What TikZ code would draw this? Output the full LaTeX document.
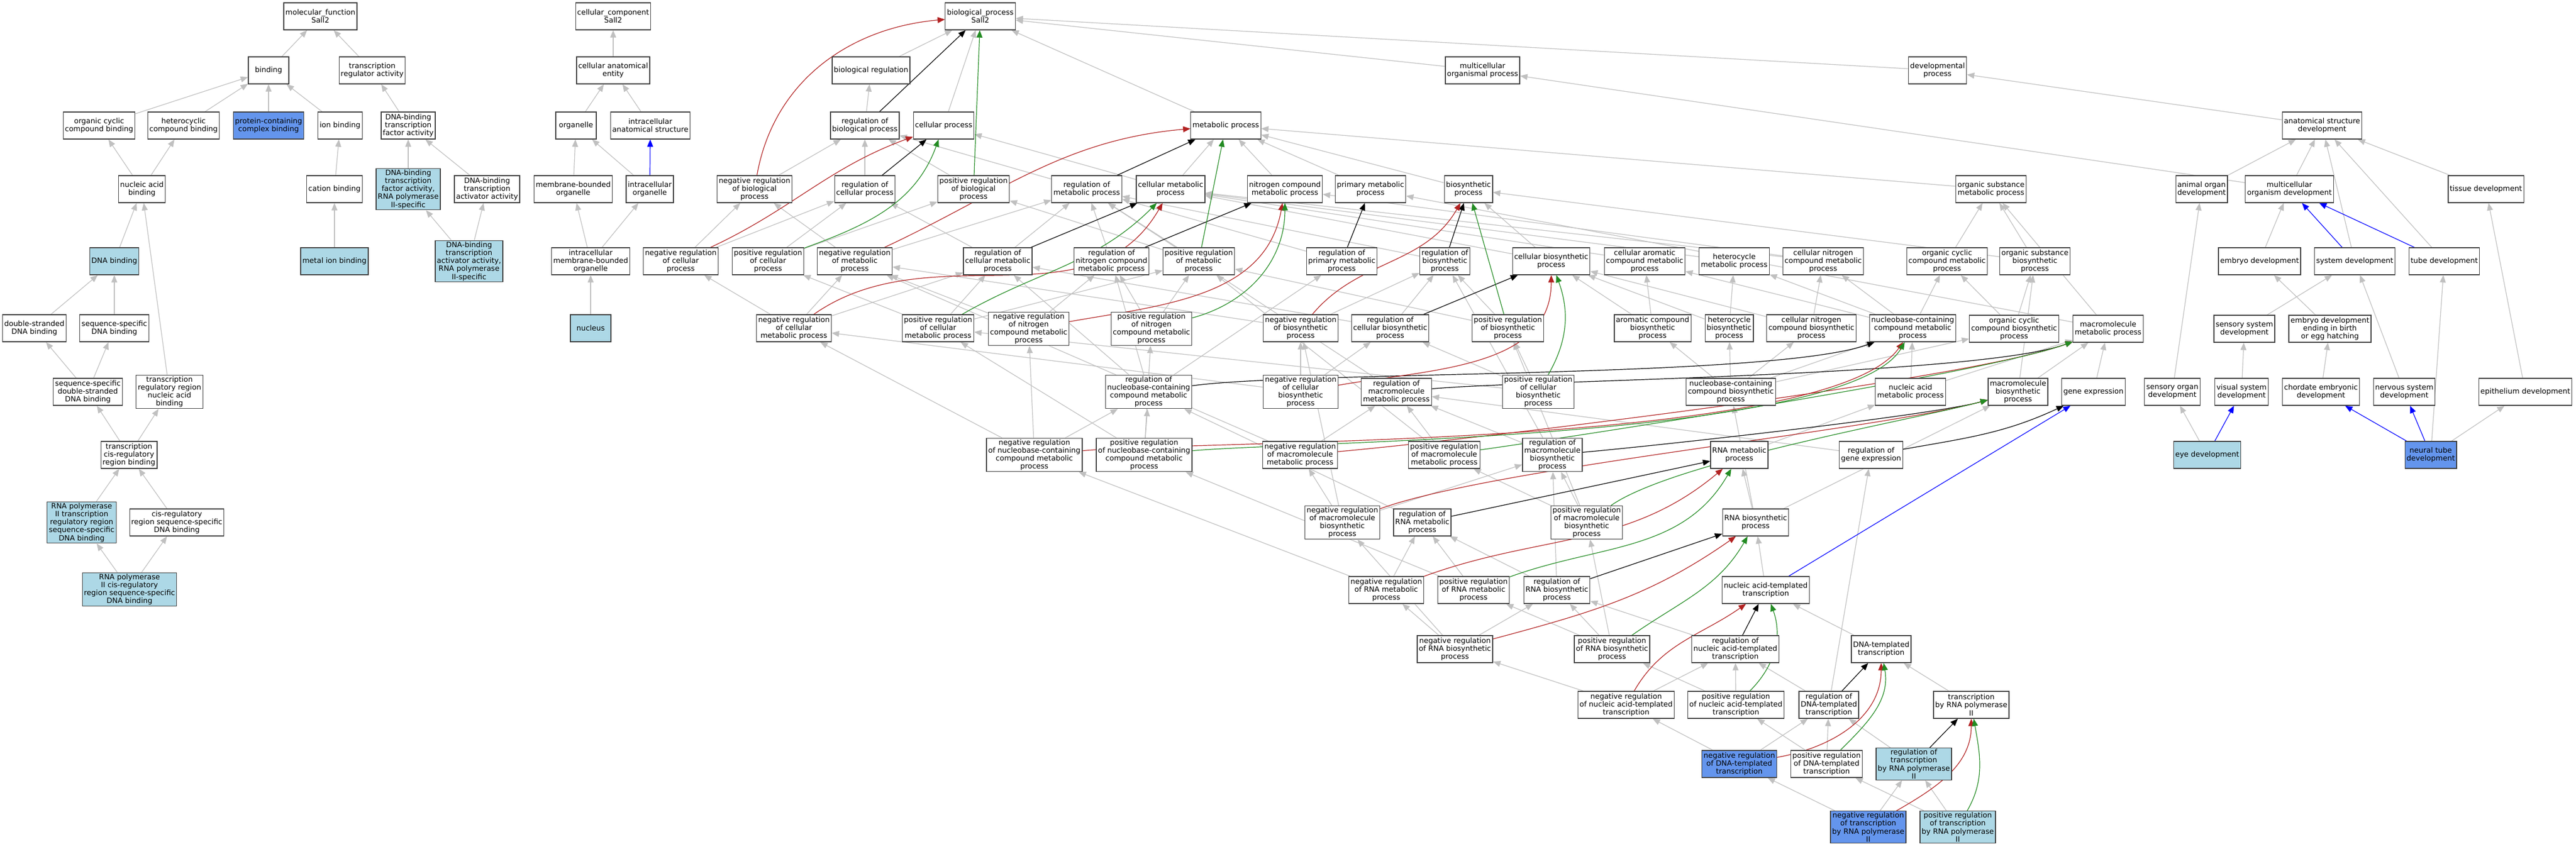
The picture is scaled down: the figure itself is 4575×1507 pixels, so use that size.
\documentclass[tikz,border=0pt]{standalone}
\usepackage{fontspec}
\setmainfont{DejaVu Sans}
\usetikzlibrary{arrows.meta}
\usetikzlibrary{backgrounds}
\definecolor{lb}{HTML}{ADD8E6}
\definecolor{cb}{HTML}{6495ED}
\definecolor{eg}{HTML}{C0C0C0}
\definecolor{fr}{HTML}{B22222}
\definecolor{fg}{HTML}{228B22}
\begin{document}
\begin{tikzpicture}[>={Triangle[length=1.3pt,width=1.05pt]},x=0.1pt,y=0.1pt,
    term/.style={draw=black!75,line width=0.13pt,fill=white,align=center,minimum height=4.8pt,minimum width=7.2pt,inner xsep=0.3pt,inner ysep=0.2pt,font=\fontsize{1.3}{1.42}\selectfont},
    lbox/.style={term,fill=lb},
    cbox/.style={term,fill=cb},
    ge/.style={->,color=eg,line width=0.12pt},
    bk/.style={->,color=black,line width=0.12pt},
    rd/.style={->,color=fr,line width=0.12pt},
    gn/.style={->,color=fg,line width=0.12pt},
    bl/.style={->,color=blue,line width=0.12pt}]
    \useasboundingbox (0,0) rectangle (4575,-1507);
    \node[term] (mf) at (569,-29) {molecular\_function\\Sall2};
    \node[term] (bind) at (477,-125) {binding};
    \node[term] (tra) at (661,-125) {transcription\\regulator activity};
    \node[term] (occb) at (176,-223) {organic cyclic\\compound binding};
    \node[term] (hcb) at (326,-223) {heterocyclic\\compound binding};
    \node[cbox] (pccb) at (477,-223) {protein-containing\\complex binding};
    \node[term] (ionb) at (604,-223) {ion binding};
    \node[term] (dtfa) at (725,-223) {DNA-binding\\transcription\\factor activity};
    \node[term] (nab) at (252,-336) {nucleic acid\\binding};
    \node[term] (catb) at (594,-336) {cation binding};
    \node[lbox] (dtfp) at (725,-336) {DNA-binding\\transcription\\factor activity,\\RNA polymerase\\II-specific};
    \node[term] (dtaa) at (865,-336) {DNA-binding\\transcription\\activator activity};
    \node[lbox] (dnab) at (203,-464) {DNA binding};
    \node[lbox] (mib) at (594,-464) {metal ion binding};
    \node[lbox] (dtap) at (833,-464) {DNA-binding\\transcription\\activator activity,\\RNA polymerase\\II-specific};
    \node[term] (dsdb) at (61,-583) {double-stranded\\DNA binding};
    \node[term] (ssdb) at (203,-583) {sequence-specific\\DNA binding};
    \node[term] (ssds) at (156,-696) {sequence-specific\\double-stranded\\DNA binding};
    \node[term] (trrn) at (301,-696) {transcription\\regulatory region\\nucleic acid\\binding};
    \node[term] (tcrb) at (229,-808) {transcription\\cis-regulatory\\region binding};
    \node[lbox] (rptr) at (145,-928) {RNA polymerase\\II transcription\\regulatory region\\sequence-specific\\DNA binding};
    \node[term] (crss) at (314,-928) {cis-regulatory\\region sequence-specific\\DNA binding};
    \node[lbox] (rpcr) at (230,-1047) {RNA polymerase\\II cis-regulatory\\region sequence-specific\\DNA binding};
    \node[term] (cc) at (1089,-29) {cellular\_component\\Sall2};
    \node[term] (cae) at (1089,-125) {cellular anatomical\\entity};
    \node[term] (org) at (1023,-223) {organelle};
    \node[term] (ias) at (1155,-223) {intracellular\\anatomical structure};
    \node[term] (mbo) at (1018,-336) {membrane-bounded\\organelle};
    \node[term] (io) at (1154,-336) {intracellular\\organelle};
    \node[term] (imbo) at (1049,-464) {intracellular\\membrane-bounded\\organelle};
    \node[lbox] (nuc) at (1049,-583) {nucleus};
    \node[term] (bp) at (1741,-29) {biological\_process\\Sall2};
    \node[term] (breg) at (1547,-125) {biological regulation};
    \node[term] (mop) at (2633,-125) {multicellular\\organismal process};
    \node[term] (devp) at (3441,-125) {developmental\\process};
    \node[term] (rbp) at (1536,-223) {regulation of\\biological process};
    \node[term] (cp) at (1676,-223) {cellular process};
    \node[term] (mp) at (2177,-223) {metabolic process};
    \node[term] (asd) at (4124,-223) {anatomical structure\\development};
    \node[term] (nrbp) at (1340,-336) {negative regulation\\of biological\\process};
    \node[term] (rcp) at (1536,-336) {regulation of\\cellular process};
    \node[term] (prbp) at (1729,-336) {positive regulation\\of biological\\process};
    \node[term] (rmp) at (1930,-336) {regulation of\\metabolic process};
    \node[term] (cmp) at (2079,-336) {cellular metabolic\\process};
    \node[term] (ncmp) at (2282,-336) {nitrogen compound\\metabolic process};
    \node[term] (pmp) at (2434,-336) {primary metabolic\\process};
    \node[term] (bsp) at (2608,-336) {biosynthetic\\process};
    \node[term] (osmp) at (3536,-336) {organic substance\\metabolic process};
    \node[term] (aod) at (3910,-336) {animal organ\\development};
    \node[term] (mod) at (4066,-336) {multicellular\\organism development};
    \node[term] (tisd) at (4415,-336) {tissue development};
    \node[term] (nrcp) at (1209,-464) {negative regulation\\of cellular\\process};
    \node[term] (prcp) at (1364,-464) {positive regulation\\of cellular\\process};
    \node[term] (nrmp) at (1518,-464) {negative regulation\\of metabolic\\process};
    \node[term] (rcmp) at (1772,-464) {regulation of\\cellular metabolic\\process};
    \node[term] (rncm) at (1974,-464) {regulation of\\nitrogen compound\\metabolic process};
    \node[term] (prmp) at (2129,-464) {positive regulation\\of metabolic\\process};
    \node[term] (rpmp) at (2383,-464) {regulation of\\primary metabolic\\process};
    \node[term] (rbsp) at (2566,-464) {regulation of\\biosynthetic\\process};
    \node[term] (cbsp) at (2755,-464) {cellular biosynthetic\\process};
    \node[term] (cacm) at (2921,-464) {cellular aromatic\\compound metabolic\\process};
    \node[term] (hcmp) at (3080,-464) {heterocycle\\metabolic process};
    \node[term] (cncm) at (3238,-464) {cellular nitrogen\\compound metabolic\\process};
    \node[term] (occm) at (3458,-464) {organic cyclic\\compound metabolic\\process};
    \node[term] (osbp) at (3614,-464) {organic substance\\biosynthetic\\process};
    \node[term] (embd) at (4013,-464) {embryo development};
    \node[term] (sysd) at (4182,-464) {system development};
    \node[term] (tubd) at (4341,-464) {tube development};
    \node[term] (nrcm) at (1410,-583) {negative regulation\\of cellular\\metabolic process};
    \node[term] (prcm) at (1666,-583) {positive regulation\\of cellular\\metabolic process};
    \node[term] (nrnc) at (1827,-584) {negative regulation\\of nitrogen\\compound metabolic\\process};
    \node[term] (prnc) at (2045,-584) {positive regulation\\of nitrogen\\compound metabolic\\process};
    \node[term] (nrbs) at (2310,-583) {negative regulation\\of biosynthetic\\process};
    \node[term] (rcbs) at (2469,-583) {regulation of\\cellular biosynthetic\\process};
    \node[term] (prbs) at (2678,-583) {positive regulation\\of biosynthetic\\process};
    \node[term] (acbp) at (2935,-583) {aromatic compound\\biosynthetic\\process};
    \node[term] (hcbp) at (3071,-583) {heterocycle\\biosynthetic\\process};
    \node[term] (cncb) at (3217,-583) {cellular nitrogen\\compound biosynthetic\\process};
    \node[term] (nccm) at (3397,-583) {nucleobase-containing\\compound metabolic\\process};
    \node[term] (occbp) at (3577,-584) {organic cyclic\\compound biosynthetic\\process};
    \node[term] (mmp) at (3744,-584) {macromolecule\\metabolic process};
    \node[term] (ssd) at (3986,-584) {sensory system\\development};
    \node[term] (edeb) at (4138,-584) {embryo development\\ending in birth\\or egg hatching};
    \node[term] (rncc) at (2040,-696) {regulation of\\nucleobase-containing\\compound metabolic\\process};
    \node[term] (nrcb) at (2310,-696) {negative regulation\\of cellular\\biosynthetic\\process};
    \node[term] (rmmp) at (2480,-696) {regulation of\\macromolecule\\metabolic process};
    \node[term] (prcb) at (2732,-696) {positive regulation\\of cellular\\biosynthetic\\process};
    \node[term] (ncbp) at (3074,-696) {nucleobase-containing\\compound biosynthetic\\process};
    \node[term] (namp) at (3393,-696) {nucleic acid\\metabolic process};
    \node[term] (mbp) at (3584,-696) {macromolecule\\biosynthetic\\process};
    \node[term] (gex) at (3718,-696) {gene expression};
    \node[term] (sod) at (3858,-696) {sensory organ\\development};
    \node[term] (vsd) at (3981,-696) {visual system\\development};
    \node[term] (ced) at (4122,-696) {chordate embryonic\\development};
    \node[term] (nsd) at (4270,-696) {nervous system\\development};
    \node[term] (epd) at (4485,-696) {epithelium development};
    \node[term] (nrnm) at (1837,-808) {negative regulation\\of nucleobase-containing\\compound metabolic\\process};
    \node[term] (prnm) at (2032,-808) {positive regulation\\of nucleobase-containing\\compound metabolic\\process};
    \node[term] (nrmm) at (2309,-808) {negative regulation\\of macromolecule\\metabolic process};
    \node[term] (prmm) at (2565,-808) {positive regulation\\of macromolecule\\metabolic process};
    \node[term] (rmbs) at (2757,-808) {regulation of\\macromolecule\\biosynthetic\\process};
    \node[term] (rnamp) at (3089,-808) {RNA metabolic\\process};
    \node[term] (rgex) at (3323,-808) {regulation of\\gene expression};
    \node[lbox] (eyed) at (3920,-808) {eye development};
    \node[cbox] (ntd) at (4317,-808) {neural tube\\development};
    \node[term] (nrmb) at (2384,-928) {negative regulation\\of macromolecule\\biosynthetic\\process};
    \node[term] (rrm) at (2526,-928) {regulation of\\RNA metabolic\\process};
    \node[term] (prmb) at (2818,-928) {positive regulation\\of macromolecule\\biosynthetic\\process};
    \node[term] (rnabp) at (3118,-928) {RNA biosynthetic\\process};
    \node[term] (nrrm) at (2462,-1048) {negative regulation\\of RNA metabolic\\process};
    \node[term] (prrm) at (2617,-1048) {positive regulation\\of RNA metabolic\\process};
    \node[term] (rrb) at (2765,-1048) {regulation of\\RNA biosynthetic\\process};
    \node[term] (natt) at (3136,-1048) {nucleic acid-templated\\transcription};
    \node[term] (nrrb) at (2584,-1153) {negative regulation\\of RNA biosynthetic\\process};
    \node[term] (prrb) at (2863,-1153) {positive regulation\\of RNA biosynthetic\\process};
    \node[term] (rnat) at (3082,-1153) {regulation of\\nucleic acid-templated\\transcription};
    \node[term] (dtt) at (3341,-1153) {DNA-templated\\transcription};
    \node[term] (nrna) at (2888,-1252) {negative regulation\\of nucleic acid-templated\\transcription};
    \node[term] (prna) at (3083,-1252) {positive regulation\\of nucleic acid-templated\\transcription};
    \node[term] (rdtt) at (3248,-1252) {regulation of\\DNA-templated\\transcription};
    \node[term] (trp2) at (3501,-1252) {transcription\\by RNA polymerase\\II};
    \node[cbox] (nrdt) at (3089,-1357) {negative regulation\\of DNA-templated\\transcription};
    \node[term] (prdt) at (3244,-1357) {positive regulation\\of DNA-templated\\transcription};
    \node[lbox] (rtp2) at (3399,-1357) {regulation of\\transcription\\by RNA polymerase\\II};
    \node[cbox] (nrtp) at (3318,-1469) {negative regulation\\of transcription\\by RNA polymerase\\II};
    \node[lbox] (prtp) at (3477,-1469) {positive regulation\\of transcription\\by RNA polymerase\\II};
    \begin{scope}[on background layer]
    \fill[white] (0,0) rectangle (4575,-1507);
    \draw[ge] (bind) edge (mf);
    \draw[ge] (tra) edge (mf);
    \draw[ge] (occb) edge (bind);
    \draw[ge] (hcb) edge (bind);
    \draw[ge] (pccb) edge (bind);
    \draw[ge] (ionb) edge (bind);
    \draw[ge] (dtfa) edge (tra);
    \draw[ge] (nab) edge (occb) edge (hcb);
    \draw[ge] (catb) edge (ionb);
    \draw[ge] (dtfp) edge (dtfa);
    \draw[ge] (dtaa) edge (dtfa);
    \draw[ge] (dnab) edge (nab);
    \draw[ge] (trrn) edge (nab);
    \draw[ge] (mib) edge (catb);
    \draw[ge] (dtap) edge (dtfp) edge (dtaa);
    \draw[ge] (dsdb) edge (dnab);
    \draw[ge] (ssdb) edge (dnab);
    \draw[ge] (ssds) edge (dsdb) edge (ssdb);
    \draw[ge] (tcrb) edge (ssds) edge (trrn);
    \draw[ge] (rptr) edge (tcrb);
    \draw[ge] (crss) edge (tcrb);
    \draw[ge] (rpcr) edge (rptr) edge (crss);
    \draw[ge] (cae) edge (cc);
    \draw[ge] (org) edge (cae);
    \draw[ge] (ias) edge (cae);
    \draw[ge] (mbo) edge (org);
    \draw[ge] (io) edge (org);
    \draw[bl] (io) -- (ias);
    \draw[ge] (imbo) edge (mbo) edge (io);
    \draw[ge] (nuc) edge (imbo);
    \draw[ge] (breg) edge (bp);
    \draw[ge] (cp) edge (bp);
    \draw[ge] (mp) edge (bp);
    \draw[ge] (mop) edge (bp);
    \draw[ge] (devp) edge (bp);
    \draw[ge] (rbp) edge (breg);
    \draw[ge] (nrbp) edge (rbp);
    \draw[ge] (rcp) edge (rbp);
    \draw[ge] (prbp) edge (rbp);
    \draw[ge] (rmp) edge (rbp);
    \draw[ge] (nrcp) edge (nrbp) edge (rcp);
    \draw[ge] (prcp) edge (prbp) edge (rcp);
    \draw[ge] (nrmp) edge (nrbp) edge (rmp);
    \draw[ge] (prmp) edge (prbp) edge (rmp);
    \draw[ge] (cmp) edge (mp) edge (cp);
    \draw[ge] (rcmp) edge (rcp) edge (rmp);
    \draw[ge] (ncmp) edge (mp);
    \draw[ge] (pmp) edge (mp);
    \draw[ge] (bsp) edge (mp);
    \draw[ge] (osmp) edge (mp);
    \draw[ge] (rncm) edge (rmp);
    \draw[ge] (rpmp) edge (rmp);
    \draw[ge] (rbsp) edge (rmp);
    \draw[ge] (nrcm) edge (nrcp) edge (nrmp) edge (rcmp);
    \draw[ge] (prcm) edge (prcp) edge (prmp) edge (rcmp);
    \draw[ge] (nrnc) edge (nrmp) edge (rncm);
    \draw[ge] (prnc) edge (prmp) edge (rncm);
    \draw[ge] (nrbs) edge (nrmp) edge (rbsp);
    \draw[ge] (rcbs) edge (rbsp) edge (rcmp);
    \draw[ge] (prbs) edge (prmp) edge (rbsp);
    \draw[ge] (cbsp) edge (bsp) edge (cmp);
    \draw[ge] (cacm) edge (cmp);
    \draw[ge] (hcmp) edge (cmp);
    \draw[ge] (cncm) edge (ncmp) edge (cmp);
    \draw[ge] (occm) edge (osmp);
    \draw[ge] (osbp) edge (osmp) edge (bsp);
    \draw[ge] (acbp) edge (cacm) edge (cbsp);
    \draw[ge] (hcbp) edge (hcmp) edge (cbsp);
    \draw[ge] (cncb) edge (cncm) edge (cbsp);
    \draw[ge] (nccm) edge (cacm) edge (hcmp) edge (cncm) edge (occm);
    \draw[ge] (occbp) edge (occm) edge (osbp);
    \draw[ge] (mmp) edge (osmp) edge (pmp);
    \draw[ge] (rncc) edge (rcmp) edge (rncm) edge (rpmp);
    \draw[ge] (nrcb) edge (nrbs) edge (rcbs) edge (nrcm);
    \draw[ge] (rmmp) edge (rmp);
    \draw[ge] (prcb) edge (prbs) edge (rcbs) edge (prcm);
    \draw[ge] (ncbp) edge (nccm) edge (acbp) edge (hcbp) edge (cncb) edge (occbp);
    \draw[ge] (namp) edge (nccm) edge (mmp);
    \draw[ge] (mbp) edge (mmp) edge (osbp);
    \draw[ge] (gex) edge (mmp);
    \draw[ge] (nrnm) edge (rncc) edge (nrcm) edge (nrnc);
    \draw[ge] (prnm) edge (rncc) edge (prcm) edge (prnc);
    \draw[ge] (nrmm) edge (rmmp) edge (nrmp);
    \draw[ge] (prmm) edge (rmmp) edge (prmp);
    \draw[ge] (rmbs) edge (rmmp) edge (rbsp);
    \draw[ge] (rnamp) edge (namp);
    \draw[ge] (rgex) edge (rmmp);
    \draw[ge] (nrmb) edge (nrmm) edge (rmbs) edge (nrbs);
    \draw[ge] (rrm) edge (rncc);
    \draw[ge] (prmb) edge (prmm) edge (rmbs) edge (prbs);
    \draw[ge] (rnabp) edge (rnamp) edge (ncbp) edge (mbp);
    \draw[ge] (nrrm) edge (rrm) edge (nrnm);
    \draw[ge] (prrm) edge (rrm) edge (prnm);
    \draw[ge] (rrb) edge (rrm) edge (rmbs);
    \draw[ge] (natt) edge (rnabp);
    \draw[ge] (nrrb) edge (rrb) edge (nrrm) edge (nrmb);
    \draw[ge] (prrb) edge (rrb) edge (prrm) edge (prmb);
    \draw[ge] (rnat) edge (rrb);
    \draw[ge] (dtt) edge (natt);
    \draw[ge] (nrna) edge (rnat) edge (nrrb);
    \draw[ge] (prna) edge (rnat) edge (prrb);
    \draw[ge] (rdtt) edge (rnat) edge (rgex);
    \draw[ge] (trp2) edge (dtt);
    \draw[ge] (nrdt) edge (rdtt) edge (nrna);
    \draw[ge] (prdt) edge (rdtt) edge (prna);
    \draw[ge] (rtp2) edge (rdtt);
    \draw[ge] (nrtp) edge (rtp2) edge (nrdt);
    \draw[ge] (prtp) edge (rtp2) edge (prdt);
    \draw[ge] (asd) edge (devp);
    \draw[ge] (mod) edge (mop) edge (asd);
    \draw[ge] (aod) edge (asd);
    \draw[ge] (tisd) edge (asd);
    \draw[ge] (sysd) edge (asd);
    \draw[ge] (tubd) edge (asd);
    \draw[ge] (embd) edge (mod);
    \draw[ge] (ssd) edge (sysd);
    \draw[ge] (edeb) edge (embd);
    \draw[ge] (sod) edge (aod);
    \draw[ge] (vsd) edge (ssd);
    \draw[ge] (ced) edge (edeb);
    \draw[ge] (nsd) edge (sysd);
    \draw[ge] (epd) edge (tisd);
    \draw[ge] (eyed) edge (sod);
    \draw[ge] (ntd) edge (tubd) edge (epd);
    \draw[bk] (rbp) -- (bp);
    \draw[bk] (rcp) -- (cp);
    \draw[bk] (rmp) -- (mp);
    \draw[bk] (rcmp) -- (cmp);
    \draw[bk] (rncm) -- (ncmp);
    \draw[bk] (rpmp) -- (pmp);
    \draw[bk] (rbsp) -- (bsp);
    \draw[bk] (rcbs) -- (cbsp);
    \draw[bk] (rncc) to[out=8,in=200,looseness=0.4] (nccm);
    \draw[bk] (rmmp) to[out=5,in=200,looseness=0.4] (mmp);
    \draw[bk] (rmbs) to[out=5,in=195,looseness=0.4] (mbp);
    \draw[bk] (rgex) to[out=10,in=205] (gex);
    \draw[bk] (rrm) -- (rnamp);
    \draw[bk] (rrb) -- (rnabp);
    \draw[bk] (rnat) -- (natt);
    \draw[bk] (rdtt) -- (dtt);
    \draw[bk] (rtp2) -- (trp2);
    \draw[rd] (nrbp) to[out=80,in=185] (bp);
    \draw[rd] (nrcp) to[out=25,in=200] (cp);
    \draw[rd] (nrmp) to[out=25,in=185] (mp);
    \draw[rd] (nrcm) to[out=35,in=240] (cmp);
    \draw[rd] (nrnc) to[out=10,in=260] (ncmp);
    \draw[rd] (nrbs) to[out=50,in=240] (bsp);
    \draw[rd] (nrcb) to[out=10,in=270] (cbsp);
    \draw[rd] (nrnm) to[out=5,in=235,looseness=0.4] (nccm);
    \draw[rd] (nrmm) to[out=5,in=200,looseness=0.4] (mmp);
    \draw[rd] (nrmb) to[out=20,in=195,looseness=0.5] (mbp);
    \draw[rd] (nrrm) to[out=20,in=220] (rnamp);
    \draw[rd] (nrrb) to[out=15,in=215] (rnabp);
    \draw[rd] (nrna) to[out=60,in=215] (natt);
    \draw[rd] (nrdt) to[out=10,in=270] (dtt);
    \draw[rd] (nrtp) to[out=30,in=270] (trp2);
    \draw[gn] (prbp) -- (bp);
    \draw[gn] (prcp) to[out=20,in=250] (cp);
    \draw[gn] (prmp) -- (mp);
    \draw[gn] (prcm) to[out=30,in=225] (cmp);
    \draw[gn] (prnc) to[out=15,in=270] (ncmp);
    \draw[gn] (prbs) -- (bsp);
    \draw[gn] (prcb) to[out=60,in=290] (cbsp);
    \draw[gn] (prnm) to[out=5,in=240,looseness=0.4] (nccm);
    \draw[gn] (prmm) to[out=8,in=200,looseness=0.4] (mmp);
    \draw[gn] (prmb) to[out=35,in=195,looseness=0.5] (mbp);
    \draw[gn] (prrm) to[out=20,in=240] (rnamp);
    \draw[gn] (prrb) to[out=35,in=240] (rnabp);
    \draw[gn] (prna) to[out=45,in=290] (natt);
    \draw[gn] (prdt) to[out=45,in=280] (dtt);
    \draw[gn] (prtp) to[out=60,in=280] (trp2);
    \draw[bl] (natt) -- (gex);
    \draw[bl] (sysd) -- (mod);
    \draw[bl] (tubd) -- (mod);
    \draw[bl] (eyed) -- (vsd);
    \draw[bl] (ntd) -- (ced);
    \draw[bl] (ntd) -- (nsd);
    \end{scope}
\end{tikzpicture}
\end{document}
